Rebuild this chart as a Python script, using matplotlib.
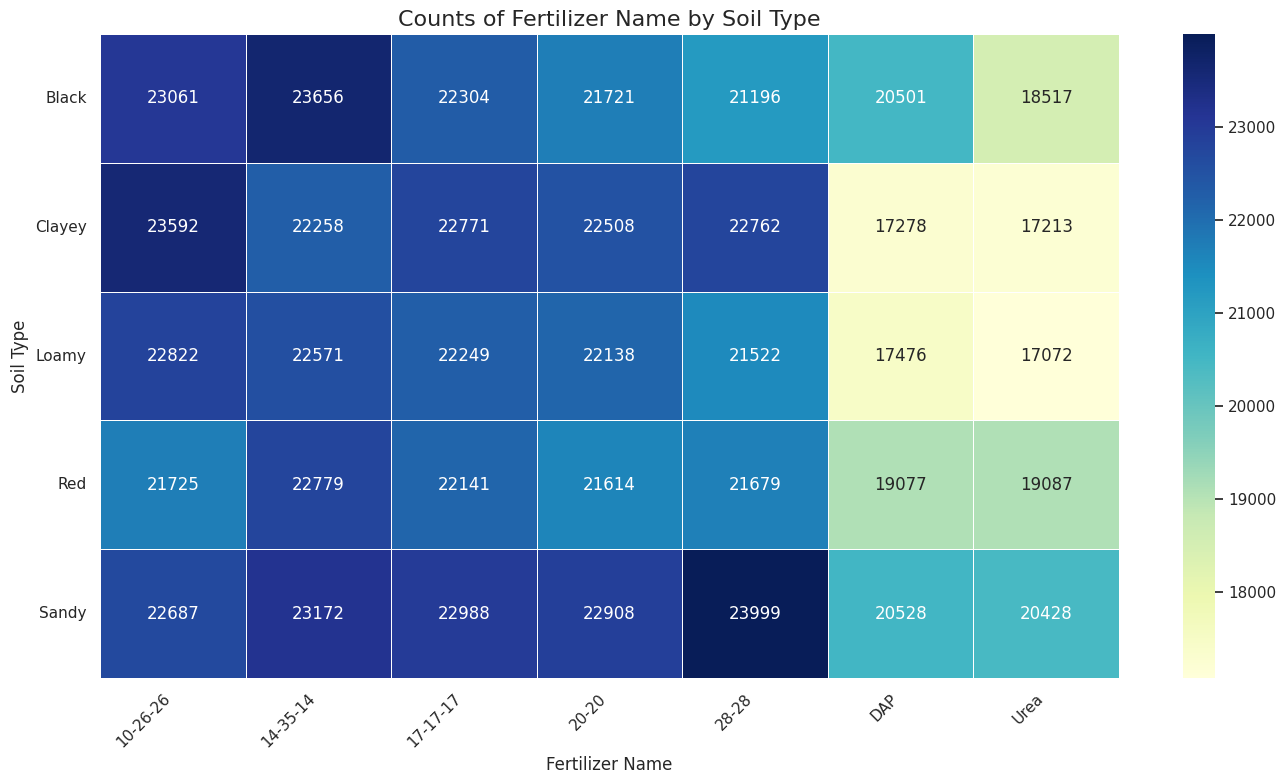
import matplotlib
matplotlib.use("Agg")
import matplotlib.pyplot as plt
import numpy as np
import pandas as pd
import seaborn as sns

# Data
soil_types = ["Black", "Clayey", "Loamy", "Red", "Sandy"]
fertilizers = ["10-26-26", "14-35-14", "17-17-17", "20-20", "28-28", "DAP", "Urea"]

black = [23061, 23656, 22304, 21721, 21196, 20501, 18517]
clayey = [23592, 22258, 22771, 22508, 22762, 17278, 17213]
loamy = [22822, 22571, 22249, 22138, 21522, 17476, 17072]
red = [21725, 22779, 22141, 21614, 21679, 19077, 19087]
sandy = [22687, 23172, 22988, 22908, 23999, 20528, 20428]

counts = pd.DataFrame(
    [black, clayey, loamy, red, sandy],
    index=pd.Index(soil_types, name="Soil Type"),
    columns=pd.Index(fertilizers, name="Fertilizer Name"),
)

sns.set_theme(style="white")

W, H = 1286, 784
fig = plt.figure(figsize=(W / 100, H / 100), dpi=100)
# axes placed to match the reference layout (pixels -> figure fractions)
ax = fig.add_axes([100 / W, 1 - 678 / H, 1019 / W, 644 / H])
cax = fig.add_axes([1183 / W, 1 - 678 / H, 32 / W, 644 / H])

sns.heatmap(counts, annot=True, fmt="d", cmap="YlGnBu", linewidths=0.5,
            linecolor="white", ax=ax, cbar_ax=cax, annot_kws={"fontsize": 12})

ax.set_title("Counts of Fertilizer Name by Soil Type", fontsize=16)
ax.set_xlabel("Fertilizer Name", fontsize=12)
ax.set_ylabel("Soil Type", fontsize=12)
plt.setp(ax.get_xticklabels(), rotation=45, ha="right")
plt.setp(ax.get_yticklabels(), rotation=0)

plt.savefig("out.png", dpi=100)
